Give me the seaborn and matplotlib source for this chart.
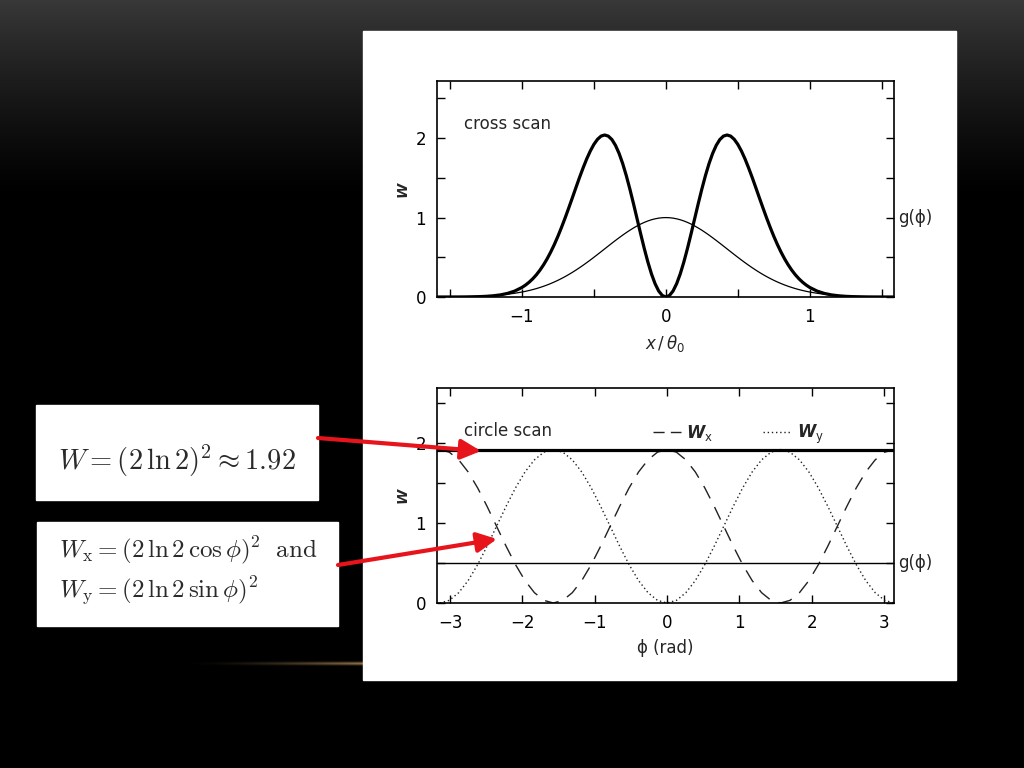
import numpy as np
import pandas as pd
import matplotlib
matplotlib.use("Agg")
import matplotlib.pyplot as plt
import seaborn as sns
from matplotlib.patches import Rectangle
from matplotlib.ticker import MultipleLocator, FuncFormatter

# ---------------- data ----------------
x_cross = [-1.60, -1.55, -1.50, -1.45, -1.40, -1.35, -1.30, -1.25, -1.20, -1.15, -1.10, -1.05,
           -1.000, -0.975, -0.950, -0.925, -0.900, -0.875, -0.850, -0.825, -0.800, -0.775,
           -0.750, -0.725, -0.700, -0.675, -0.650, -0.625, -0.600, -0.575, -0.550, -0.525,
           -0.500, -0.475, -0.450, -0.425, -0.400, -0.375, -0.350, -0.325, -0.300, -0.275,
           -0.250, -0.225, -0.200, -0.175, -0.150, -0.125, -0.100, -0.075, -0.050, -0.025,
           0.000,
           0.025, 0.050, 0.075, 0.100, 0.125, 0.150, 0.175, 0.200, 0.225, 0.250, 0.275,
           0.300, 0.325, 0.350, 0.375, 0.400, 0.425, 0.450, 0.475, 0.500, 0.525, 0.550,
           0.575, 0.600, 0.625, 0.650, 0.675, 0.700, 0.725, 0.750, 0.775, 0.800, 0.825,
           0.850, 0.875, 0.900, 0.925, 0.950, 0.975, 1.000,
           1.05, 1.10, 1.15, 1.20, 1.25, 1.30, 1.35, 1.40, 1.45, 1.50, 1.55, 1.60]
g_cross = [0.0008, 0.0013, 0.0020, 0.0029, 0.0044, 0.0064, 0.0092, 0.0131, 0.0185, 0.0256,
           0.0349, 0.0470,
           0.0625, 0.0717, 0.0819, 0.0933, 0.1058, 0.1197, 0.1349, 0.1515, 0.1696, 0.1891,
           0.2102, 0.2329, 0.2570, 0.2827, 0.3099, 0.3386, 0.3686, 0.3998, 0.4323, 0.4657,
           0.5000, 0.5350, 0.5704, 0.6061, 0.6417, 0.6772, 0.7120, 0.7461, 0.7792, 0.8108,
           0.8409, 0.8690, 0.8950, 0.9186, 0.9395, 0.9576, 0.9727, 0.9845, 0.9931, 0.9983,
           1.0000,
           0.9983, 0.9931, 0.9845, 0.9727, 0.9576, 0.9395, 0.9186, 0.8950, 0.8690, 0.8409,
           0.8108, 0.7792, 0.7461, 0.7120, 0.6772, 0.6417, 0.6061, 0.5704, 0.5350, 0.5000,
           0.4657, 0.4323, 0.3998, 0.3686, 0.3386, 0.3099, 0.2827, 0.2570, 0.2329, 0.2102,
           0.1891, 0.1696, 0.1515, 0.1349, 0.1197, 0.1058, 0.0933, 0.0819, 0.0717, 0.0625,
           0.0470, 0.0349, 0.0256, 0.0185, 0.0131, 0.0092, 0.0064, 0.0044, 0.0029, 0.0020,
           0.0013, 0.0008]
W_cross = [0.0000, 0.0001, 0.0003, 0.0005, 0.0011, 0.0023, 0.0044, 0.0083, 0.0152, 0.0266,
           0.0453, 0.0749,
           0.1201, 0.1502, 0.1862, 0.2289, 0.2788, 0.3374, 0.4043, 0.4803, 0.5660, 0.6606,
           0.7642, 0.8765, 0.9952, 1.1200, 1.2472, 1.3768, 1.5044, 1.6253, 1.7385, 1.8382,
           1.9219, 1.9856, 2.0262, 2.0401, 2.0260, 1.9829, 1.9095, 1.8082, 1.6804, 1.5289,
           1.3590, 1.1757, 0.9852, 0.7947, 0.6107, 0.4406, 0.2909, 0.1677, 0.0758, 0.0192,
           0.0000,
           0.0192, 0.0758, 0.1677, 0.2909, 0.4406, 0.6107, 0.7947, 0.9852, 1.1757, 1.3590,
           1.5289, 1.6804, 1.8082, 1.9095, 1.9829, 2.0260, 2.0401, 2.0262, 1.9856, 1.9219,
           1.8382, 1.7385, 1.6253, 1.5044, 1.3768, 1.2472, 1.1200, 0.9952, 0.8765, 0.7642,
           0.6606, 0.5660, 0.4803, 0.4043, 0.3374, 0.2788, 0.2289, 0.1862, 0.1502, 0.1201,
           0.0749, 0.0453, 0.0266, 0.0152, 0.0083, 0.0044, 0.0023, 0.0011, 0.0005, 0.0003,
           0.0001, 0.0000]

phi = [-3.1416, -3.0107, -2.8798, -2.7489, -2.6180, -2.4871, -2.3562, -2.2253, -2.0944,
       -1.9635, -1.8326, -1.7017, -1.5708, -1.4399, -1.3090, -1.1781, -1.0472, -0.9163,
       -0.7854, -0.6545, -0.5236, -0.3927, -0.2618, -0.1309, 0.0000, 0.1309, 0.2618,
       0.3927, 0.5236, 0.6545, 0.7854, 0.9163, 1.0472, 1.1781, 1.3090, 1.4399, 1.5708,
       1.7017, 1.8326, 1.9635, 2.0944, 2.2253, 2.3562, 2.4871, 2.6180, 2.7489, 2.8798,
       3.0107, 3.1416]
W_x = [1.920, 1.887, 1.791, 1.639, 1.440, 1.208, 0.960, 0.712, 0.480, 0.281, 0.129, 0.033,
       0.000, 0.033, 0.129, 0.281, 0.480, 0.712, 0.960, 1.208, 1.440, 1.639, 1.791, 1.887,
       1.920, 1.887, 1.791, 1.639, 1.440, 1.208, 0.960, 0.712, 0.480, 0.281, 0.129, 0.033,
       0.000, 0.033, 0.129, 0.281, 0.480, 0.712, 0.960, 1.208, 1.440, 1.639, 1.791, 1.887,
       1.920]
W_y = [0.000, 0.033, 0.129, 0.281, 0.480, 0.712, 0.960, 1.208, 1.440, 1.639, 1.791, 1.887,
       1.920, 1.887, 1.791, 1.639, 1.440, 1.208, 0.960, 0.712, 0.480, 0.281, 0.129, 0.033,
       0.000, 0.033, 0.129, 0.281, 0.480, 0.712, 0.960, 1.208, 1.440, 1.639, 1.791, 1.887,
       1.920, 1.887, 1.791, 1.639, 1.440, 1.208, 0.960, 0.712, 0.480, 0.281, 0.129, 0.033,
       0.000]
W_circle = 1.92
g_circle = 0.5

# ---------------- style ----------------
sns.set_style("ticks")
plt.rcParams['font.family'] = ['DejaVu Sans']
plt.rcParams['axes.linewidth'] = 1.2

fig = plt.figure(figsize=(10.24, 7.68), dpi=100, facecolor='black')

# background (slide)
H, Wd = 768, 1024
rows = np.arange(H)
v = np.clip(1 - rows / 200.0, 0, 1) ** 1.3 * 0.22
bg = np.repeat(v[:, None], Wd, axis=1)
bg = np.dstack([bg, bg, bg])
cols = np.arange(Wd)
ramp = np.clip((cols - 180) / 185.0, 0, 1) ** 1.6
ramp[cols > 365] = 0
for r in range(658, 669):
    prof = np.exp(-((r - 663) / 1.6) ** 2)
    bg[r, :, 0] += 0.55 * ramp * prof
    bg[r, :, 1] += 0.44 * ramp * prof
    bg[r, :, 2] += 0.28 * ramp * prof
bg = np.clip(bg, 0, 1)

bgax = fig.add_axes([0, 0, 1, 1], zorder=0)
bgax.imshow(bg, extent=[0, 1024, 0, 768], origin='upper', aspect='auto')
bgax.set_xlim(0, 1024)
bgax.set_ylim(0, 768)
bgax.axis('off')
bgax.add_patch(Rectangle((363, 768 - 680), 593, 649, color='white'))
bgax.add_patch(Rectangle((36, 768 - 500), 282, 95, color='white'))
bgax.add_patch(Rectangle((37, 768 - 626), 301, 104, color='white'))

bgax.text(177, 768 - 461, r"$W = (2\,\ln 2)^2 \approx 1.92$", fontsize=20.5,
          math_fontfamily='cm', color='#2a2a2a', ha='center', va='center')
bgax.text(59, 768 - 550, r"$W_\mathrm{x} = (2\,\ln 2\,\cos\phi)^2\ \ \mathrm{and}$",
          fontsize=18, math_fontfamily='cm', color='#2a2a2a', ha='left', va='center')
bgax.text(59, 768 - 591, r"$W_\mathrm{y} = (2\,\ln 2\,\sin\phi)^2$",
          fontsize=18, math_fontfamily='cm', color='#2a2a2a', ha='left', va='center')

FS = 12


def style_axes(ax, xminor):
    ax.set_facecolor('white')
    for s in ax.spines.values():
        s.set_visible(True)
        s.set_color('black')
        s.set_linewidth(1.2)
    ax.xaxis.set_major_locator(MultipleLocator(1))
    if xminor:
        ax.xaxis.set_minor_locator(MultipleLocator(0.5))
    ax.yaxis.set_major_locator(MultipleLocator(1))
    ax.yaxis.set_minor_locator(MultipleLocator(0.5))
    ax.tick_params(which='both', direction='in', top=True, right=True, length=5.5,
                   width=1.0, color='black', labelsize=FS, labelcolor='black')
    ax.tick_params(axis='x', pad=8)
    ax.tick_params(axis='y', pad=8)
    ax.xaxis.set_major_formatter(FuncFormatter(lambda v, p: f"{int(round(v))}".replace('-', '\u2212')))
    ax.yaxis.set_major_formatter(FuncFormatter(lambda v, p: f"{int(round(v))}"))
    ax.set_ylabel("W", fontsize=10, fontstyle='italic', fontweight='bold', labelpad=4)


# ---------------- top: cross scan ----------------
ax1 = fig.add_axes([437 / 1024, 1 - 297 / 768, 457 / 1024, 216 / 768], zorder=2)
df1 = pd.DataFrame({'x': x_cross, 'g': g_cross, 'W': W_cross})
sns.lineplot(data=df1, x='x', y='g', ax=ax1, color='black', lw=0.9, estimator=None)
sns.lineplot(data=df1, x='x', y='W', ax=ax1, color='black', lw=2.3, estimator=None)
ax1.set_xlim(-1.59, 1.585)
ax1.set_ylim(0, 2.72)
style_axes(ax1, True)
ax1.set_xlabel(r"$x\,/\,\theta_0$", fontsize=FS, labelpad=5)
ax1.text(0.06, 0.80, "cross scan", transform=ax1.transAxes, fontsize=FS, va='center')
ax1.text(1.008, 1.0, "g(ϕ)", transform=ax1.get_yaxis_transform(), fontsize=FS,
         va='center', ha='left')

# ---------------- bottom: circle scan ----------------
ax2 = fig.add_axes([437 / 1024, 1 - 603 / 768, 457 / 1024, 215 / 768], zorder=2)
df2 = pd.DataFrame({'phi': phi, 'Wx': W_x, 'Wy': W_y})
sns.lineplot(data=df2, x='phi', y='Wx', ax=ax2, color='#222222', lw=1.0,
             linestyle=(0, (10, 7)), estimator=None, label=r"W$_\mathrm{x}$")
sns.lineplot(data=df2, x='phi', y='Wy', ax=ax2, color='#222222', lw=1.0,
             linestyle=(0, (1, 2)), estimator=None, label=r"W$_\mathrm{y}$")
ax2.axhline(W_circle, color='black', lw=2.3)
ax2.axhline(g_circle, color='black', lw=1.0)
ax2.set_xlim(-3.18, 3.14)
ax2.set_ylim(0, 2.69)
style_axes(ax2, False)
ax2.set_xlabel("ϕ (rad)", fontsize=FS, labelpad=5)
ax2.text(0.06, 0.80, "circle scan", transform=ax2.transAxes, fontsize=FS, va='center')
ax2.text(1.008, g_circle, "g(ϕ)", transform=ax2.get_yaxis_transform(), fontsize=FS,
         va='center', ha='left')
leg = ax2.legend(loc='center left', bbox_to_anchor=(0.44, 0.785), ncol=2, frameon=False,
                 handlelength=1.7, columnspacing=3.0, handletextpad=0.3, fontsize=FS)
for t in leg.get_texts():
    t.set_fontweight('bold')
    t.set_fontstyle('italic')
leg.get_lines()[0].set_linestyle((0, (8, 4.5)))

# ---------------- red arrows ----------------
ov = fig.add_axes([0, 0, 1, 1], zorder=5)
ov.set_xlim(0, 1024)
ov.set_ylim(0, 768)
ov.axis('off')
ov.patch.set_alpha(0)
ap = dict(arrowstyle='-|>,head_length=0.8,head_width=0.4', lw=3, color='#e8141c',
          shrinkA=0, shrinkB=0, mutation_scale=15)
ov.annotate("", xy=(481, 768 - 451), xytext=(318, 768 - 438), arrowprops=ap)
ov.annotate("", xy=(497, 768 - 539), xytext=(338, 768 - 565), arrowprops=ap)

fig.savefig("out.png", dpi=100, facecolor='black')
